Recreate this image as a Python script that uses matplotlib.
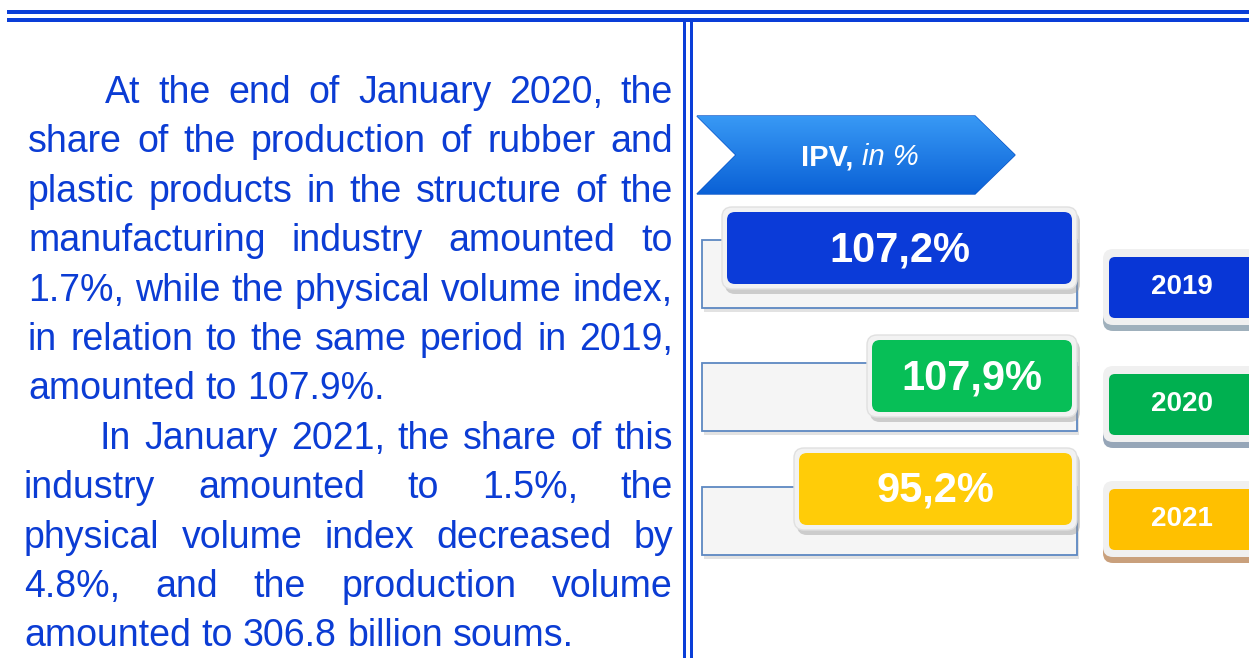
import matplotlib
matplotlib.use("Agg")
import matplotlib.pyplot as plt
import numpy as np
from matplotlib.patches import FancyBboxPatch, Rectangle, Polygon

# data
years = ['2019', '2020', '2021']
ipv = [107.2, 107.9, 95.2]
bar_colors = ['#0b3bd8', '#07bf57', '#ffcc08']
year_colors = ['#0836d6', '#00b050', '#ffc000']
year_shadow = ['#9fb0bc', '#96a6b8', '#c9a07c']

header = ['IPV,', 'in %']

para1 = ['At the end of January 2020, the',
         'share of the production of rubber and',
         'plastic products in the structure of the',
         'manufacturing industry amounted to',
         '1.7%, while the physical volume index,',
         'in relation to the same period in 2019,',
         'amounted to 107.9%.']
para2 = ['In January 2021, the share of this',
         'industry amounted to 1.5%, the',
         'physical volume index decreased by',
         '4.8%, and the production volume',
         'amounted to 306.8 billion soums.']

BLUE = '#0a3ed8'
TXT = '#0b3cd4'
W, H = 1249, 658

fig = plt.figure(figsize=(W / 100, H / 100), dpi=100)
ax = fig.add_axes([0, 0, 1, 1])
ax.set_xlim(0, W)
ax.set_ylim(H, 0)
ax.axis('off')

# frame lines
ax.add_patch(Rectangle((7, 10), W, 3.5, color=BLUE, lw=0))
ax.add_patch(Rectangle((7, 18), W, 3.5, color=BLUE, lw=0))
ax.add_patch(Rectangle((683, 18), 3.5, H, color=BLUE, lw=0))
ax.add_patch(Rectangle((690, 18), 3.5, H, color=BLUE, lw=0))

# justified text block
renderer = fig.canvas.get_renderer()
fs = 27


def put_line(line, left, right, y, justify):
    words = line.split(' ')
    objs = [ax.text(0, y, w, fontsize=fs, color=TXT, family='Liberation Sans',
                    va='baseline', ha='left') for w in words]
    widths = [o.get_window_extent(renderer).width for o in objs]
    if justify and len(words) > 1:
        gap = (right - left - sum(widths)) / (len(words) - 1)
    else:
        sp = ax.text(0, 0, 'a a', fontsize=fs, family='Liberation Sans')
        aa = ax.text(0, 0, 'aa', fontsize=fs, family='Liberation Sans')
        gap = sp.get_window_extent(renderer).width - aa.get_window_extent(renderer).width
        sp.remove()
        aa.remove()
    x = left
    for o, w in zip(objs, widths):
        o.set_x(x)
        x += w + gap


base0, step = 103, 49.4
row = 0
for paragraph, indent, left in [(para1, 105, 28), (para2, 100, 24)]:
    for i, line in enumerate(paragraph):
        x0 = indent if i == 0 else left
        put_line(line, x0, 673, base0 + step * row, i < len(paragraph) - 1)
        row += 1

# header chevron
chev = Polygon([(697, 116), (975, 116), (1015, 155), (975, 194), (697, 194), (736, 155)],
               closed=True, facecolor='none', edgecolor='#0a55c8', lw=1)
ax.add_patch(chev)
grad = np.linspace(0, 1, 100)[:, None]
c_top = np.array([0.22, 0.60, 0.96])
c_bot = np.array([0.04, 0.38, 0.84])
img = (c_top[None, None, :] * (1 - grad[..., None]) + c_bot[None, None, :] * grad[..., None])
im = ax.imshow(img, extent=[697, 1015, 194, 116], origin='upper', aspect='auto', zorder=1)
im.set_clip_path(chev)
ax.text(853, 157, header[0], fontsize=21, color='white', weight='bold',
        ha='right', va='center', family='Liberation Sans', zorder=3)
ax.text(862, 157, header[1], fontsize=21, color='white', style='italic',
        ha='left', va='center', family='Liberation Sans', zorder=3)

# value bars
frame_top = [240, 363, 487]
box_left = [722, 867, 794]
box_top = [207, 335, 448]
for i, v in enumerate(ipv):
    ft = frame_top[i]
    ax.add_patch(Rectangle((704, ft + 3), 375, 69, facecolor='#cfcfcf', lw=0, alpha=0.6, zorder=1))
    ax.add_patch(Rectangle((702, ft), 375, 68, facecolor='#f5f5f5', edgecolor='#5d88c2',
                           lw=1.3, zorder=2))
    bl, bt = box_left[i], box_top[i]
    bw, bh = 1077 - bl, 82
    ax.add_patch(FancyBboxPatch((bl + 3, bt + 5), bw, bh, boxstyle='round,pad=0,rounding_size=10',
                                facecolor='#9a9a9a', lw=0, alpha=0.45, zorder=3))
    ax.add_patch(FancyBboxPatch((bl, bt), bw, bh, boxstyle='round,pad=0,rounding_size=10',
                                facecolor='#f2f2f2', edgecolor='#e0e0e0', lw=1, zorder=4))
    ax.add_patch(FancyBboxPatch((bl + 5, bt + 5), bw - 10, bh - 10,
                                boxstyle='round,pad=0,rounding_size=8',
                                facecolor=bar_colors[i], lw=0, zorder=5))
    label = f'{v:.1f}%'.replace('.', ',')
    ax.text(bl + bw / 2, bt + bh / 2 + 2, label, fontsize=30, color='white', weight='bold',
            ha='center', va='center', family='Liberation Sans', zorder=6)

# year tags
tag_top = [249, 366, 481]
for i, yr in enumerate(years):
    t = tag_top[i]
    ax.add_patch(FancyBboxPatch((1103, t + 6), 200, 76, boxstyle='round,pad=0,rounding_size=10',
                                facecolor=year_shadow[i], lw=0, zorder=2))
    ax.add_patch(FancyBboxPatch((1103, t), 200, 76, boxstyle='round,pad=0,rounding_size=10',
                                facecolor='#f0f0f0', lw=0, zorder=3))
    ax.add_patch(FancyBboxPatch((1109, t + 8), 200, 61, boxstyle='round,pad=0,rounding_size=6',
                                facecolor=year_colors[i], lw=0, zorder=4))
    ax.text(1182, t + 38, yr, fontsize=20, color='white', weight='bold',
            ha='center', va='center', family='Liberation Sans', zorder=5)

ax.set_xlim(0, W)
ax.set_ylim(H, 0)
fig.savefig('out.png', dpi=100)
